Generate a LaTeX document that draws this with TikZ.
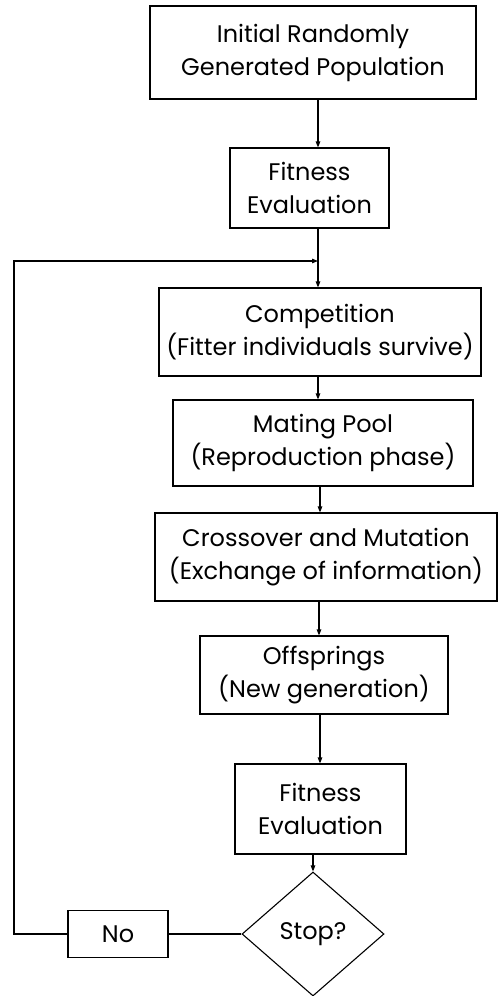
\documentclass[tikz,border=0pt]{standalone}
\usepackage{fontspec}
\setmainfont{Poppins}
\usetikzlibrary{shapes.geometric,arrows.meta}
\begin{document}
\begin{tikzpicture}[x=1pt,y=-1pt, line width=1.1pt,
  txt/.style={font=\fontsize{24}{33}\selectfont},
  box/.style={draw, rectangle, align=center, inner sep=0pt, txt},
  arr/.style={-{Triangle[length=6pt,width=4.5pt]}}]
\useasboundingbox (0,0) rectangle (499,996);
\node[box, minimum width=326pt, minimum height=93pt] (init) at (313,52.5) {Initial Randomly\\Generated Population};
\node[box, minimum width=159pt, minimum height=80pt] (fit1) at (309.5,188) {Fitness\\Evaluation};
\node[box, minimum width=322pt, minimum height=88pt] (comp) at (320,332) {Competition\\(Fitter individuals survive)};
\node[box, minimum width=300pt, minimum height=86pt] (mate) at (323,443) {Mating Pool\\ (Reproduction phase)};
\node[box, minimum width=342pt, minimum height=88pt] (cross) at (326,557) {Crossover and Mutation\\(Exchange of information)};
\node[box, minimum width=248pt, minimum height=78pt] (off) at (324,675) {Offsprings\\ (New generation)};
\node[box, minimum width=171pt, minimum height=90pt] (fit2) at (320.5,809) {Fitness\\Evaluation};
\node[draw, diamond, aspect=1.12, minimum width=142pt, minimum height=124pt, inner sep=0pt, txt] (stop) at (313,934) {Stop?};
\node[box, minimum width=100pt, minimum height=47pt] (no) at (118,934) {No};
\coordinate (loopx) at (14,261);
\coordinate (join) at (318,261);
\draw[arr] (init.south -| join) -- (fit1.north -| join);
\draw[arr] (fit1.south -| join) -- (comp.north -| join);
\draw[arr] (comp.south -| join) -- (mate.north -| join);
\draw[arr] ([xshift=2pt]mate.south -| join) -- ([xshift=2pt]cross.north -| join);
\draw[arr] ([xshift=1pt]cross.south -| join) -- ([xshift=1pt]off.north -| join);
\draw[arr] ([xshift=2pt]off.south -| join) -- ([xshift=2pt]fit2.north -| join);
\draw[arr] (fit2.south -| stop.north) -- (stop.north);
\draw (stop.west) -- (no.east);
\draw[arr] (no.west) -| (loopx) -- (join);
\end{tikzpicture}
\end{document}
